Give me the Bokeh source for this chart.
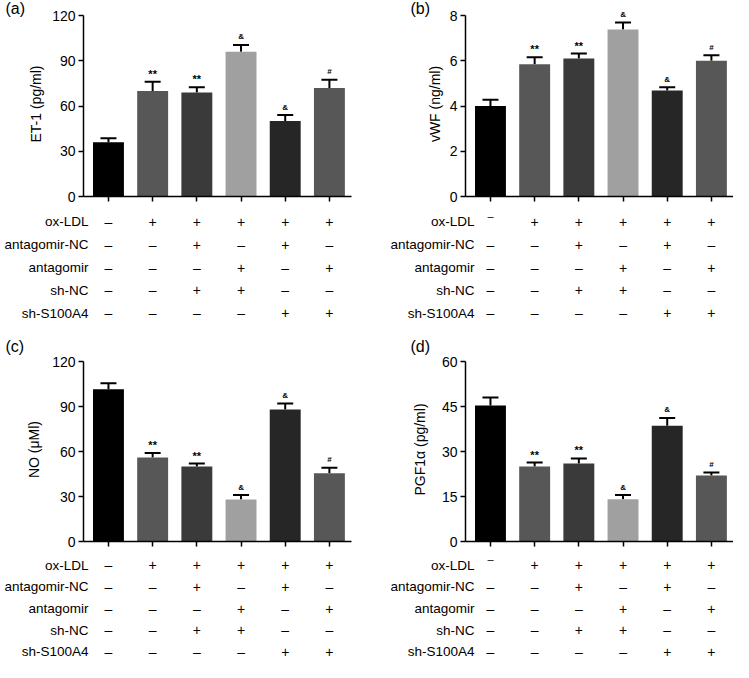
from bokeh.plotting import figure
from bokeh.models import (ColumnDataSource, Range1d, FactorRange, FixedTicker, Whisker,
                          TeeHead, Title)
from bokeh.layouts import row, column
from bokeh.embed import file_html
from bokeh.resources import INLINE
from bokeh.core.properties import value

# ---------------- data ----------------
groups = [0, 1, 2, 3, 4, 5]
bar_colors = ["#000000", "#575757", "#3a3a3a", "#a0a0a0", "#262626", "#575757"]
markers = ["", "**", "**", "&", "&", "#"]

treatments = ["ox-LDL", "antagomir-NC", "antagomir", "sh-NC", "sh-S100A4"]
ox_ldl = ["–", "+", "+", "+", "+", "+"]
antagomir_nc = ["–", "–", "+", "–", "+", "–"]
antagomir = ["–", "–", "–", "+", "–", "+"]
sh_nc = ["–", "–", "+", "+", "–", "–"]
sh_s100a4 = ["–", "–", "–", "–", "+", "+"]

et1_mean = [36, 70, 69, 96, 50, 72]
et1_err = [2.6, 6.0, 3.4, 4.5, 4.0, 5.4]
et1_ticks = [0, 30, 60, 90, 120]

vwf_mean = [4.0, 5.85, 6.1, 7.38, 4.69, 6.0]
vwf_err = [0.28, 0.31, 0.22, 0.31, 0.14, 0.24]
vwf_ticks = [0, 2, 4, 6, 8]

no_mean = [101.5, 56, 50, 28, 88, 45.5]
no_err = [4.0, 3.0, 2.0, 3.0, 4.0, 3.7]
no_ticks = [0, 30, 60, 90, 120]

pgf_mean = [45.3, 25, 26, 14.1, 38.6, 22]
pgf_err = [2.7, 1.3, 1.7, 1.4, 2.6, 1.0]
pgf_ticks = [0, 15, 30, 45, 60]

# ---------------- layout constants ----------------
FONT = "Liberation Sans"
X0, X1 = -0.565, 5.5
W = 268
design = [ox_ldl, antagomir_nc, antagomir, sh_nc, sh_s100a4]


def make_chart(tag, ylabel, mean, err, ticks, lb, rb, border_top, span, pad,
               lab_standoff, tag_offset, tag_standoff):
    ymax = ticks[-1]
    yend = ymax + pad * ymax / span
    p = figure(x_range=Range1d(X0, X1), y_range=Range1d(0, yend),
               frame_width=W, frame_height=span + pad,
               min_border_left=lb, min_border_right=rb,
               min_border_top=border_top, min_border_bottom=12, title=None,
               output_backend="svg", toolbar_location=None)
    p.outline_line_color = None
    p.xgrid.visible = False
    p.ygrid.visible = False

    src = ColumnDataSource(dict(
        x=groups, mean=mean, upper=[m + e for m, e in zip(mean, err)], color=bar_colors))
    p.vbar(x="x", top="mean", width=0.7, fill_color="color", line_color=None, source=src)
    p.add_layout(Whisker(source=src, base="x", lower="mean", upper="upper", dimension="height",
                         upper_head=TeeHead(size=16, line_width=2, line_color="black"),
                         lower_head=None, line_width=2, line_color="black"))

    mk = [i for i, m in enumerate(markers) if m]
    msrc = ColumnDataSource(dict(
        x=[groups[i] for i in mk], y=[mean[i] + err[i] for i in mk],
        mark=[markers[i] for i in mk],
        msize=["11px" if markers[i] == "**" else "8px" for i in mk]))
    p.text(x="x", y="y", text="mark", source=msrc, text_align="center",
           text_baseline="middle", y_offset=-8, text_font_size="msize",
           text_font=value(FONT), text_font_style="bold", text_color="black")

    ya = p.yaxis[0]
    ya.bounds = (0, ymax)
    ya.ticker = FixedTicker(ticks=ticks)
    ya.axis_label = ylabel
    ya.axis_label_text_font = FONT
    ya.axis_label_text_font_size = "14px"
    ya.axis_label_text_font_style = "normal"
    ya.axis_label_text_color = "black"
    ya.axis_label_standoff = lab_standoff
    ya.major_label_text_font = FONT
    ya.major_label_text_font_size = "14px"
    ya.major_label_text_color = "black"
    ya.major_label_standoff = 3
    ya.major_tick_out = 5
    ya.major_tick_in = 0
    ya.minor_tick_line_color = None
    ya.axis_line_width = 1.5
    ya.major_tick_line_width = 1.5
    ya.axis_line_color = "black"
    ya.major_tick_line_color = "black"

    xa = p.xaxis[0]
    xa.ticker = FixedTicker(ticks=groups)
    xa.major_label_overrides = {g: "" for g in groups}
    xa.major_label_text_font_size = "4px"
    xa.major_label_standoff = 0
    xa.major_tick_out = 5
    xa.major_tick_in = 0
    xa.minor_tick_line_color = None
    xa.axis_line_width = 1.5
    xa.major_tick_line_width = 1.5
    xa.axis_line_color = "black"
    xa.major_tick_line_color = "black"

    p.add_layout(Title(text=tag, align="left", vertical_align="bottom", offset=tag_offset,
                       standoff=tag_standoff, text_font=FONT, text_font_size="16px",
                       text_font_style="normal", text_color="black"), "above")
    return p


def make_table(lb, rb, tb, rh, standoff, raised_first):
    h = int(round(rh * len(treatments)))
    t = figure(x_range=Range1d(X0, X1),
               y_range=FactorRange(factors=list(reversed(treatments))),
               frame_width=W, frame_height=h,
               min_border_left=lb, min_border_right=rb,
               min_border_top=tb, min_border_bottom=0, title=None,
               x_axis_location=None, output_backend="svg", toolbar_location=None)
    t.outline_line_color = None
    t.xgrid.visible = False
    t.ygrid.visible = False
    ya = t.yaxis[0]
    ya.axis_line_color = None
    ya.major_tick_line_color = None
    ya.minor_tick_line_color = None
    ya.major_tick_out = 0
    ya.major_tick_in = 0
    ya.major_label_standoff = standoff
    ya.major_label_text_font = FONT
    ya.major_label_text_font_size = "13.5px"
    ya.major_label_text_color = "black"

    xs, ys, ss = [], [], []
    rx, ry, rs = [], [], []
    for name, signs in zip(treatments, design):
        for g, s in zip(groups, signs):
            if raised_first and name == treatments[0] and g == groups[0]:
                rx.append(g); ry.append(name); rs.append(s)
            else:
                xs.append(g); ys.append(name); ss.append(s)
    t.text(x=xs, y=ys, text=ss, text_align="center", text_baseline="middle",
           text_font_size="14px", text_font=value(FONT), text_color="black")
    if rx:
        t.text(x=rx, y=ry, text=rs, text_align="center", text_baseline="middle",
               y_offset=-6, text_font_size="11px", text_font=value(FONT), text_color="black")
    return t


LB_L, RB_L = 83, 3
LB_R, RB_R = 111, 0

a = make_chart("(a)", "ET-1 (pg/ml)", et1_mean, et1_err, et1_ticks, LB_L, RB_L, 11, 181, 4, 5, -78, -11)
a_t = make_table(LB_L, RB_L, 2, 22.8, -5, False)
c = make_chart("(c)", "NO (μMl)", no_mean, no_err, no_ticks, LB_L, RB_L, 33, 180, 4, 7, -78, 6)
c_t = make_table(LB_L, RB_L, 1, 21.6, -5, False)

b = make_chart("(b)", "vWF (ng/ml)", vwf_mean, vwf_err, vwf_ticks, LB_R, RB_R, 11, 181, 4, 4, -55, -11)
b_t = make_table(LB_R, RB_R, 2, 22.8, -9, True)
d = make_chart("(d)", "PGF1α (pg/ml)", pgf_mean, pgf_err, pgf_ticks, LB_R, RB_R, 33, 180, 4, 11, -55, 6)
d_t = make_table(LB_R, RB_R, 1, 21.6, -9, True)

layout = row(column(a, a_t, c, c_t), column(b, b_t, d, d_t))

open("out.html", "w").write(file_html(layout, INLINE))
